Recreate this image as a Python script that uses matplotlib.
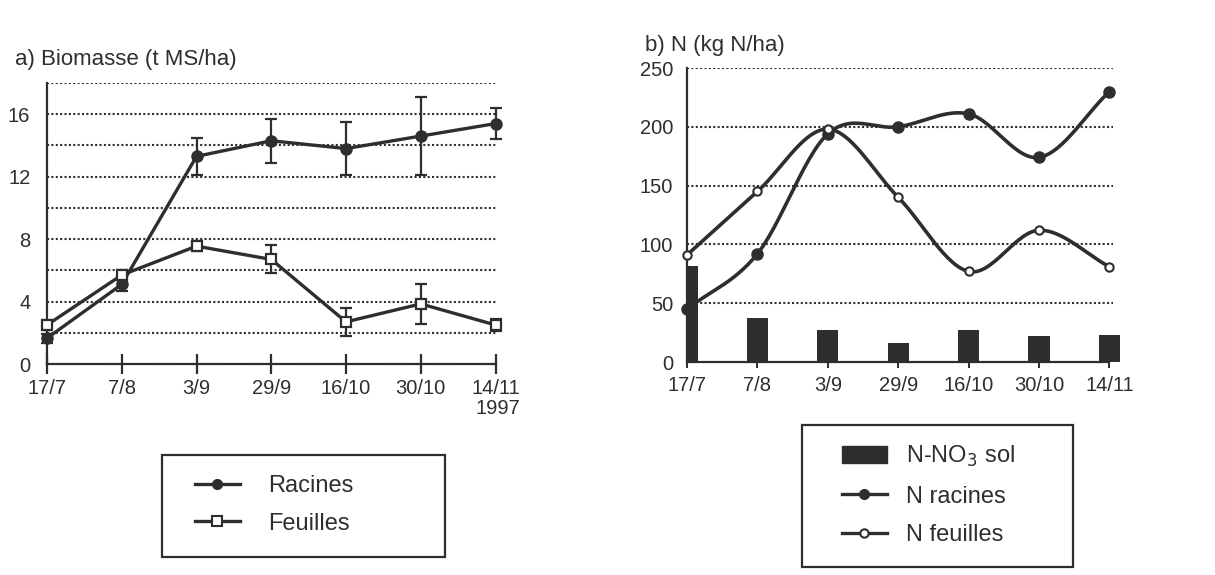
import matplotlib
matplotlib.use("Agg")
import matplotlib.pyplot as plt
import numpy as np
from matplotlib.lines import Line2D
from matplotlib.patches import Patch, Rectangle

plt.rcParams["font.family"] = ["Liberation Sans", "DejaVu Sans"]

dates = ["17/7", "7/8", "3/9", "29/9", "16/10", "30/10", "14/11"]

# a) biomasse (t MS/ha)
racines = [1.65, 5.1, 13.3, 14.3, 13.8, 14.6, 15.4]
racines_err = [0.3, 0.4, 1.2, 1.4, 1.7, 2.5, 1.0]
feuilles = [2.5, 5.7, 7.55, 6.7, 2.7, 3.85, 2.5]
feuilles_err = [0.3, 0.3, 0.3, 0.9, 0.9, 1.3, 0.4]

# b) N (kg N/ha)
no3_sol = [82, 37, 27.5, 16, 27.5, 22, 23]
n_racines = [45, 92, 194, 200, 211, 174, 230]
n_feuilles = [91, 145, 198, 140, 77, 112, 81]

INK = "#2e2e2e"
TICK_FS = 14.5
GRID = dict(color=INK, lw=1.5, ls=(0, (1, 1.1)))


def smooth(y, n=30):
    """Catmull-Rom curve through the points (for drawing the smoothed line)."""
    y = np.asarray(y, float)
    p = np.concatenate([[2 * y[0] - y[1]], y, [2 * y[-1] - y[-2]]])
    xs, ys = [], []
    for i in range(len(y) - 1):
        t = np.linspace(0, 1, n, endpoint=False)
        p0, p1, p2, p3 = p[i], p[i + 1], p[i + 2], p[i + 3]
        v = 0.5 * (2 * p1 + (-p0 + p2) * t + (2 * p0 - 5 * p1 + 4 * p2 - p3) * t ** 2
                   + (-p0 + 3 * p1 - 3 * p2 + p3) * t ** 3)
        xs.append(i + t)
        ys.append(v)
    xs.append([len(y) - 1])
    ys.append([y[-1]])
    return np.concatenate(xs), np.concatenate(ys)


fig = plt.figure(figsize=(12.15, 5.75), dpi=100)
x = np.arange(len(dates))

# ---- panel a
ax1 = fig.add_axes([47 / 1215, 1 - 364 / 575, 450 / 1215, 281 / 575])
ax1.errorbar(x, racines, yerr=racines_err, color=INK, lw=2.4, marker="o", ms=8,
             mfc=INK, mec=INK, capsize=4, elinewidth=1.6, capthick=1.6,
             clip_on=False, zorder=4)
ax1.errorbar(x, feuilles, yerr=feuilles_err, color=INK, lw=2.4, marker="s", ms=7,
             mfc="white", mec=INK, mew=1.6, capsize=4, elinewidth=1.6, capthick=1.6,
             clip_on=False, zorder=5)
ax1.set_xlim(0, 6.02)
ax1.set_ylim(0, 18)
ax1.set_yticks(np.arange(0, 19, 2))
ax1.set_yticklabels([str(v) if v % 4 == 0 else "" for v in range(0, 19, 2)])
ax1.set_xticks(x)
ax1.set_xticklabels(dates)
ax1.yaxis.grid(True, **GRID)
ax1.set_axisbelow(True)
for s in ["top", "right"]:
    ax1.spines[s].set_visible(False)
ax1.spines["bottom"].set_bounds(0, 6)
for s in ["left", "bottom"]:
    ax1.spines[s].set_linewidth(1.6)
    ax1.spines[s].set_color(INK)
ax1.tick_params(axis="x", direction="inout", length=14, width=1.6, colors=INK,
                labelsize=TICK_FS, pad=4)
ax1.tick_params(axis="y", length=0, labelsize=TICK_FS, colors=INK, pad=12)
ax1.annotate("1997", xy=(6, 0), xytext=(2, -45), textcoords="offset pixels",
             ha="center", va="center", fontsize=TICK_FS, color=INK,
             annotation_clip=False)
fig.text(15 / 1215, 1 - 60 / 575, "a) Biomasse (t MS/ha)", fontsize=16,
         color=INK, va="center")

# ---- panel b
ax2 = fig.add_axes([687 / 1215, 1 - 362 / 575, 433 / 1215, 294 / 575])
ax2.bar(x, no3_sol, width=0.3, color=INK, zorder=3)
sx, sy = smooth(n_racines)
ax2.plot(sx, sy, color=INK, lw=2.6, zorder=4, clip_on=False)
ax2.plot(x, n_racines, ls="none", marker="o", ms=8, mfc=INK, mec=INK,
         zorder=5, clip_on=False)
sx, sy = smooth(n_feuilles)
ax2.plot(sx, sy, color=INK, lw=2.6, zorder=4, clip_on=False)
ax2.plot(x, n_feuilles, ls="none", marker="o", ms=6, mfc="white", mec=INK,
         mew=1.5, zorder=6, clip_on=False)
ax2.set_xlim(0, 6.15)
ax2.set_ylim(0, 250)
ax2.set_yticks(np.arange(0, 251, 50))
ax2.hlines(np.arange(50, 251, 50), 0, 6.05, zorder=1, **GRID)
ax2.set_xticks(x)
ax2.set_xticklabels(dates)
for s in ["top", "right"]:
    ax2.spines[s].set_visible(False)
ax2.spines["bottom"].set_bounds(0, 6)
for s in ["left", "bottom"]:
    ax2.spines[s].set_linewidth(1.6)
    ax2.spines[s].set_color(INK)
ax2.tick_params(axis="x", direction="out", length=4, width=1.4, colors=INK,
                labelsize=TICK_FS, pad=6)
ax2.tick_params(axis="y", length=0, labelsize=TICK_FS, colors=INK, pad=10)
fig.text(645 / 1215, 1 - 45 / 575, "b) N (kg N/ha)", fontsize=16,
         color=INK, va="center")

# ---- legends
fig.patches.append(Rectangle((162 / 1215, 1 - 557 / 575), 283 / 1215, 102 / 575,
                             transform=fig.transFigure, fill=False,
                             ec=INK, lw=1.6))
h1 = [Line2D([], [], color=INK, lw=2.4, marker="o", ms=7, mfc=INK),
      Line2D([], [], color=INK, lw=2.4, marker="s", ms=7, mfc="white", mew=1.5)]
fig.legend(h1, ["Racines", "Feuilles"], loc="center left",
           bbox_to_anchor=(195 / 1215, 1 - 505 / 575), frameon=False,
           borderpad=0, borderaxespad=0,
           fontsize=17, handlelength=1.9, handletextpad=1.2, labelspacing=0.65,
           labelcolor=INK)

fig.patches.append(Rectangle((802 / 1215, 1 - 567 / 575), 271 / 1215, 142 / 575,
                             transform=fig.transFigure, fill=False,
                             ec=INK, lw=1.6))
h2 = [Patch(color=INK),
      Line2D([], [], color=INK, lw=2.4, marker="o", ms=7, mfc=INK),
      Line2D([], [], color=INK, lw=2.4, marker="o", ms=6, mfc="white", mew=1.5)]
fig.legend(h2, ["N-NO$_3$ sol", "N racines", "N feuilles"], loc="center left",
           bbox_to_anchor=(842 / 1215, 1 - 495 / 575), frameon=False,
           borderpad=0, borderaxespad=0,
           fontsize=17, handlelength=1.9, handletextpad=0.8,
           labelspacing=0.7, labelcolor=INK)

fig.savefig("out.png", dpi=100)
